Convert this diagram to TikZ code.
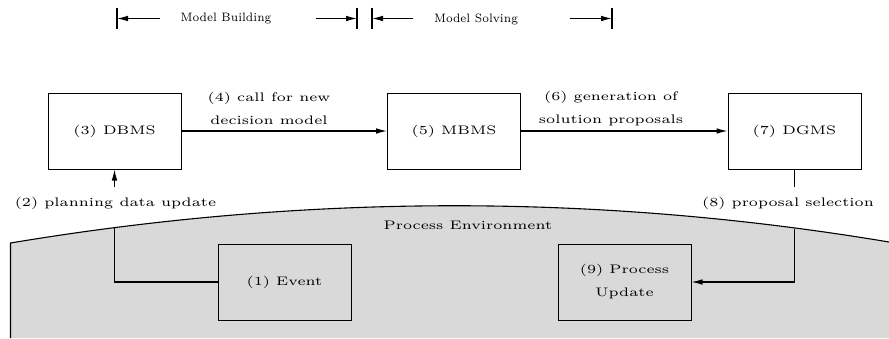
\documentclass[tikz,border=0pt]{standalone}
\usepackage{graphicx}
\usetikzlibrary{arrows.meta}
% wide-set text and narrow-set text
\newcommand{\wtxt}[1]{\scalebox{1.2}[1]{#1}}
\newcommand{\ntxt}[1]{\scalebox{0.9}[1]{#1}}
\begin{document}
\begin{tikzpicture}[x=0.5pt,y=-0.5pt,
  lbl/.style={font=\fontsize{6.2}{11.5}\selectfont, inner sep=0pt},
  phase/.style={font=\fontsize{6.1}{8}\selectfont, inner sep=0pt},
  box/.style={draw, line width=0.5pt, minimum width=66.5pt, minimum height=38pt,
    inner sep=0pt, align=center, font=\fontsize{6.2}{11.5}\selectfont},
  conn/.style={line width=0.55pt},
  arr/.style={conn, -{Latex[length=5.5pt,width=2.8pt]}},
  envfill/.style={fill=gray!30}]
\useasboundingbox (0,0) rectangle (889,338);

% process environment: shaded region with a shallow arched top
\fill[envfill] (10.5,338) -- (10.5,243) .. controls (303.7,194) and (596.3,193) .. (889,242) -- (889,338) -- cycle;
\draw[conn] (10.5,338) -- (10.5,243) .. controls (303.7,194) and (596.3,193) .. (889,242);
\node[lbl] (env) at (468,225) {\wtxt{Process Environment}};

% phase brackets
\coordinate (b1l) at (117,18.5);
\coordinate (b1r) at (357,18.5);
\coordinate (b2l) at (372,18.5);
\coordinate (b2r) at (612,18.5);
\coordinate (a1) at (160,18.5);
\coordinate (a2) at (316,18.5);
\coordinate (a3) at (413,18.5);
\coordinate (a4) at (570,18.5);
\foreach \b in {b1l,b1r,b2l,b2r}
  \draw[conn] ([yshift=5.5pt]\b) -- ([yshift=-5pt]\b);
\draw[arr] (a1) -- (b1l);
\draw[arr] (a2) -- (b1r);
\draw[arr] (a3) -- (b2l);
\draw[arr] (a4) -- (b2r);
\node[phase] (mb) at (226,19) {\ntxt{Model Building}};
\node[phase] (ms) at (476,19) {\ntxt{Model Solving}};

% system components
\node[box] (dbms) at (114.5,131) {\wtxt{(3) DBMS}};
\node[box] (mbms) at (454,131) {\wtxt{(5) MBMS}};
\node[box] (dgms) at (794.5,131) {\wtxt{(7) DGMS}};
\node[box] (event) at (284.5,282) {\wtxt{(1) Event}};
\node[box] (pupd) at (624.5,282) {\wtxt{(9) Process}\\\wtxt{Update}};

% data flow
\draw[arr] (dbms.east) -- (mbms.west);
\draw[arr] (mbms.east) -- (dgms.west);
\node[lbl, align=center] (l4) at (269,108.5) {\wtxt{(4) call for new}\\\wtxt{decision model}};
\node[lbl, align=center] (l6) at (611,108.5) {\wtxt{(6) generation of}\\\wtxt{solution proposals}};

\node[lbl] (l2) at (115.5,203) {\wtxt{(2) planning data update}};
\node[lbl] (l8) at (788,203) {\wtxt{(8) proposal selection}};
\coordinate (c2) at (114.5,187);
\coordinate (c8) at (794.5,187);
\draw[arr] (c2) -- (dbms.south);
\draw[conn] (dgms.south) -- (c8);

\coordinate (e2) at (114.5,228);
\coordinate (e8) at (794.5,229);
\draw[conn] (event.west) -| (e2);
\draw[arr] (e8) |- (pupd.east);
\end{tikzpicture}
\end{document}
